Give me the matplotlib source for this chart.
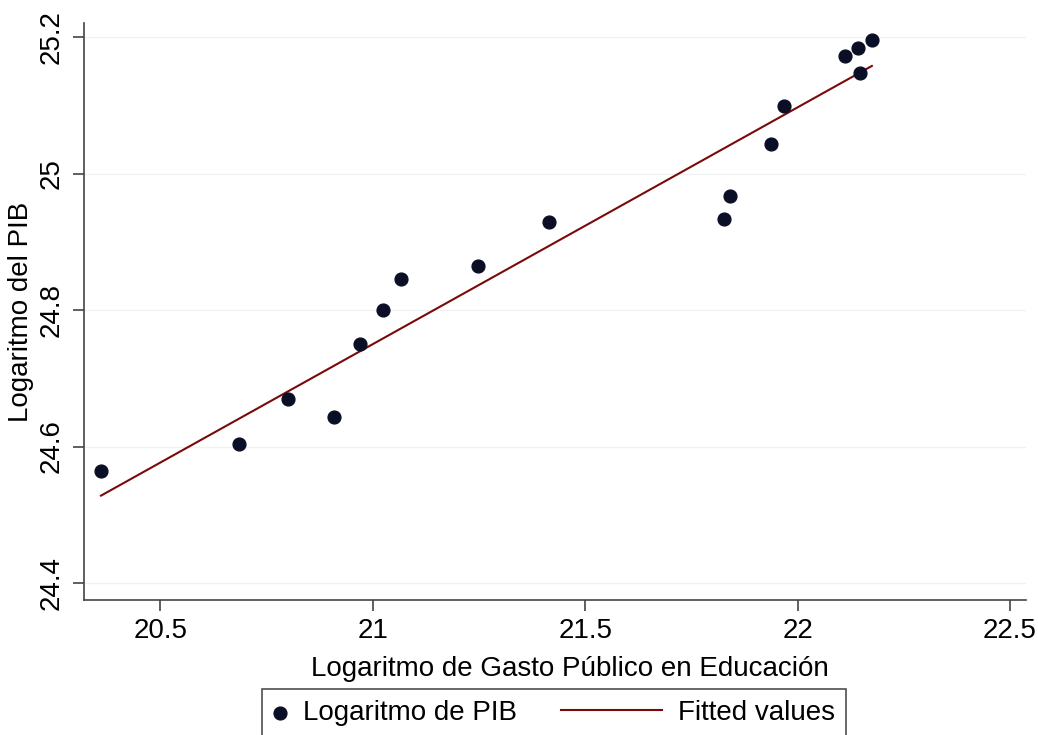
import numpy as np
import matplotlib.pyplot as plt
from matplotlib.legend_handler import HandlerLine2D

plt.rcParams['font.family'] = ['Liberation Sans', 'DejaVu Sans']

# log of public spending on education vs log of GDP
gasto = [20.36, 20.685, 20.80, 20.908, 20.970, 21.025, 21.066, 21.247, 21.415,
         21.828, 21.841, 21.938, 21.969, 22.112, 22.143, 22.147, 22.175]
pib = [24.564, 24.603, 24.670, 24.644, 24.751, 24.800, 24.845, 24.865, 24.929,
       24.933, 24.967, 25.043, 25.099, 25.173, 25.184, 25.147, 25.196]

# fitted values (lfit) at the ends of the x range
fit_x = [20.36, 22.175]
fit_y = [24.528, 25.158]

xticks = [20.5, 21, 21.5, 22, 22.5]
xticklabels = ["20.5", "21", "21.5", "22", "22.5"]
yticks = [24.4, 24.6, 24.8, 25, 25.2]
yticklabels = ["24.4", "24.6", "24.8", "25", "25.2"]


# legend line that reaches left past its (short) handle box, like Stata's
class LongLine(HandlerLine2D):
    def get_xdata(self, legend, xdescent, ydescent, width, height, fontsize):
        xdata = np.array([-xdescent + width - 3.64 * fontsize, -xdescent + width])
        return xdata, xdata[:1]


fig = plt.figure(figsize=(10.38, 7.35), dpi=100)
ax = fig.add_axes([84/1038, 1-600/735, 942/1038, 577/735])

for yt in yticks:
    ax.axhline(yt, color='#eef2f2', linewidth=1, zorder=0)

pts = ax.scatter(gasto, pib, s=85, color='#0b0f26', zorder=3, label="Logaritmo de PIB")
ln, = ax.plot(fit_x, fit_y, color='#7a0a0a', linewidth=1.5, zorder=2, label="Fitted values")

ax.set_xlim(20.32, 22.538)
ax.set_ylim(24.375, 25.221)
ax.set_xticks(xticks)
ax.set_xticklabels(xticklabels)
ax.set_yticks(yticks)
ax.set_yticklabels(yticklabels, rotation=90, va='center')

for side in ['top', 'right']:
    ax.spines[side].set_visible(False)
for side in ['left', 'bottom']:
    ax.spines[side].set_color('#444444')
    ax.spines[side].set_linewidth(1.2)

ax.tick_params(axis='both', length=8, width=1.2, color='#444444', labelsize=20)
ax.tick_params(axis='x', pad=5)
ax.tick_params(axis='y', pad=6)

ax.set_xlabel("Logaritmo de Gasto Público en Educación", fontsize=20)
ax.xaxis.label.set_va('center')
ax.xaxis.set_label_coords(0.516, -69/577)
ax.set_ylabel("Logaritmo del PIB", fontsize=20)
ax.yaxis.label.set_va('center')
ax.yaxis.set_label_coords(-63/942, 0.5)

leg = fig.legend([pts, ln], ["Logaritmo de PIB", "Fitted values"],
                 loc='upper left', bbox_to_anchor=(262/1038, 1-689/735),
                 ncol=2, fontsize=20, frameon=True, fancybox=False,
                 borderpad=0.4, borderaxespad=0, handlelength=0.5,
                 handletextpad=0.58, columnspacing=4.71,
                 handler_map={ln: LongLine()})
leg.get_frame().set_edgecolor('#222222')
leg.get_frame().set_linewidth(1.2)

fig.savefig('out.png', dpi=100)
